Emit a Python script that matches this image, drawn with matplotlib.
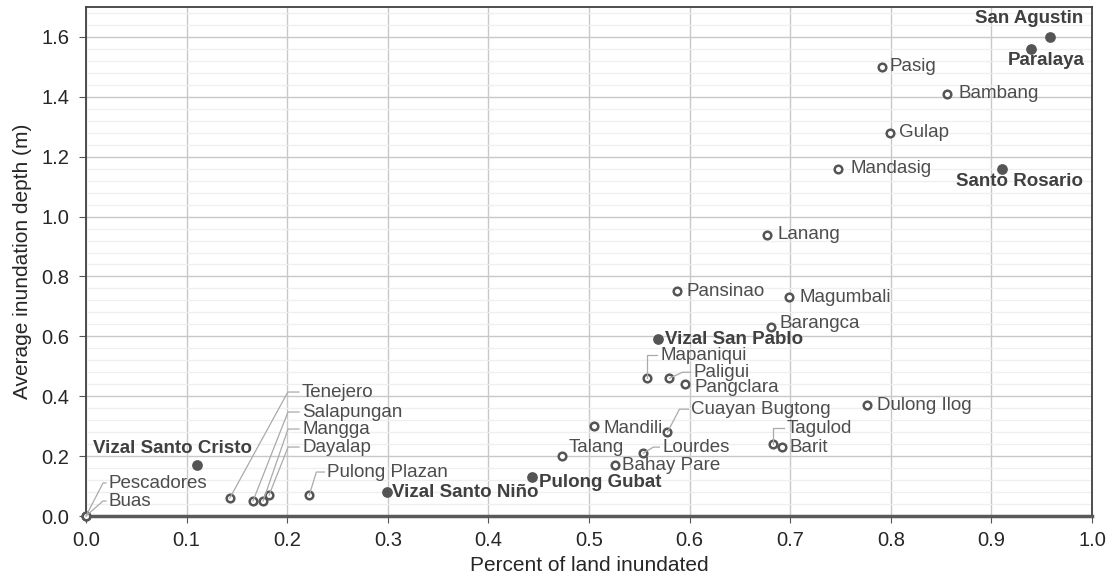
import numpy as np
import matplotlib
matplotlib.use("Agg")
from matplotlib import pyplot as plt
from matplotlib.lines import Line2D
from matplotlib.ticker import MultipleLocator

plt.rcParams['font.family'] = ['Liberation Sans', 'DejaVu Sans']

# barangay data
names = ['San Agustin', 'Paralaya', 'Pasig', 'Bambang', 'Gulap', 'Mandasig',
         'Santo Rosario', 'Lanang', 'Pansinao', 'Magumbali', 'Barangca',
         'Vizal San Pablo', 'Mapaniqui', 'Paligui', 'Pangclara', 'Cuayan Bugtong',
         'Lourdes', 'Dulong Ilog', 'Tagulod', 'Barit', 'Mandili', 'Talang',
         'Bahay Pare', 'Pulong Gubat', 'Vizal Santo Niño', 'Pulong Plazan',
         'Tenejero', 'Salapungan', 'Mangga', 'Dayalap', 'Vizal Santo Cristo',
         'Pescadores', 'Buas']
pct_inundated = [0.958, 0.939, 0.791, 0.856, 0.799, 0.748,
                 0.911, 0.677, 0.587, 0.699, 0.681,
                 0.569, 0.558, 0.580, 0.595, 0.578,
                 0.554, 0.776, 0.683, 0.692, 0.505, 0.473,
                 0.526, 0.443, 0.299, 0.222,
                 0.143, 0.166, 0.176, 0.182, 0.110,
                 0.0, 0.0]
depth = [1.60, 1.56, 1.50, 1.41, 1.28, 1.16,
         1.16, 0.94, 0.75, 0.73, 0.63,
         0.59, 0.46, 0.46, 0.44, 0.28,
         0.21, 0.37, 0.24, 0.23, 0.30, 0.20,
         0.17, 0.13, 0.08, 0.07,
         0.06, 0.05, 0.05, 0.07, 0.17,
         0.0, 0.0]
highlighted = ['San Agustin', 'Paralaya', 'Santo Rosario', 'Vizal San Pablo',
               'Pulong Gubat', 'Vizal Santo Niño', 'Vizal Santo Cristo']

# label placement in pixels: (dx, dy downwards, ha)
label_pos = {
    'San Agustin': (34, -18, 'right'), 'Paralaya': (54, 12, 'right'),
    'Pasig': (8, 0, 'left'), 'Bambang': (11, 0, 'left'), 'Gulap': (9, 0, 'left'),
    'Mandasig': (12, 0, 'left'), 'Santo Rosario': (81, 13, 'right'),
    'Lanang': (10, 0, 'left'), 'Pansinao': (10, 0, 'left'),
    'Magumbali': (10, 0, 'left'), 'Barangca': (8, -4, 'left'),
    'Vizal San Pablo': (7, 0, 'left'), 'Mapaniqui': (13, -23, 'left'),
    'Paligui': (24, -6, 'left'), 'Pangclara': (10, 3, 'left'),
    'Cuayan Bugtong': (24, -23, 'left'), 'Lourdes': (19, -6, 'left'),
    'Dulong Ilog': (10, 0, 'left'), 'Tagulod': (14, -16, 'left'),
    'Barit': (7, 0, 'left'), 'Mandili': (9, 2, 'left'), 'Talang': (7, -9, 'left'),
    'Bahay Pare': (7, 0, 'left'), 'Pulong Gubat': (7, 5, 'left'),
    'Vizal Santo Niño': (5, 0, 'left'), 'Pulong Plazan': (18, -23, 'left'),
    'Tenejero': (72, -106, 'left'), 'Salapungan': (49, -89, 'left'),
    'Mangga': (39, -72, 'left'), 'Dayalap': (33, -48, 'left'),
    'Vizal Santo Cristo': (-104, -17, 'left'),
    'Pescadores': (23, -33, 'left'), 'Buas': (23, -15, 'left'),
}
# leader elbow distance left of the text
leaders = {'Mapaniqui': 13, 'Paligui': 11, 'Cuayan Bugtong': 12, 'Lourdes': 9,
           'Tagulod': 14, 'Pulong Plazan': 11, 'Tenejero': 14, 'Salapungan': 14,
           'Mangga': 14, 'Dayalap': 14, 'Pescadores': 6, 'Buas': 6}

fig = plt.figure(figsize=(11.1, 5.78), dpi=100)
ax = fig.add_axes([86/1110, 1-516/578, (1092-86)/1110, (516-7)/578])
ax.set_xlim(0, 1.0)
ax.set_ylim(0, 1.7)
ax.xaxis.set_major_locator(MultipleLocator(0.1))
ax.yaxis.set_major_locator(MultipleLocator(0.2))
ax.yaxis.set_minor_locator(MultipleLocator(0.04))
ax.grid(True, which='major', color='#c8c8c8', lw=1.0)
ax.grid(True, which='minor', axis='y', color='#efefef', lw=0.9)
ax.set_axisbelow(True)
ax.tick_params(which='minor', length=0)
ax.tick_params(which='major', length=5, color='#555555', labelsize=14.5,
               labelcolor='#262626')
ax.tick_params(axis='x', pad=6)
ax.tick_params(axis='y', pad=7)
ax.xaxis.set_major_formatter(matplotlib.ticker.FormatStrFormatter('%.1f'))
ax.yaxis.set_major_formatter(matplotlib.ticker.FormatStrFormatter('%.1f'))
for s in ['top', 'right', 'left']:
    ax.spines[s].set_color('#404040')
    ax.spines[s].set_linewidth(1.3)
ax.spines['bottom'].set_color('#595959')
ax.spines['bottom'].set_linewidth(2.5)
ax.set_xlabel('Percent of land inundated', fontsize=15, color='#262626', labelpad=4)
ax.set_ylabel('Average inundation depth (m)', fontsize=15, color='#262626', labelpad=7)

x = np.array(pct_inundated)
y = np.array(depth)
hl = np.array([n in highlighted for n in names])
ax.scatter(x[~hl], y[~hl], s=30, facecolor='white', edgecolor='#555555',
           linewidths=1.8, zorder=3, clip_on=False)
ax.scatter(x[hl], y[hl], s=45, color='#555555', zorder=3, clip_on=False)

inv = fig.transFigure.inverted()
for n, xi, yi in zip(names, x, y):
    dx, dy, ha = label_pos[n]
    bold = n in highlighted
    ax.annotate(n, (xi, yi), xytext=(dx, -dy), textcoords='offset pixels',
                ha=ha, va='center', fontsize=13.5,
                fontweight='bold' if bold else 'normal',
                color='#404040' if bold else '#4d4d4d', zorder=4)
    if n in leaders:
        p = ax.transData.transform((xi, yi))
        t = p + np.array([dx, -dy])
        pts = np.array([p, [t[0] - leaders[n], t[1]], [t[0] - 3, t[1]]])
        pts = inv.transform(pts)
        fig.add_artist(Line2D(pts[:, 0], pts[:, 1], transform=fig.transFigure,
                              color='#aaaaaa', lw=0.9, zorder=2))

fig.savefig('out.png', dpi=100)
